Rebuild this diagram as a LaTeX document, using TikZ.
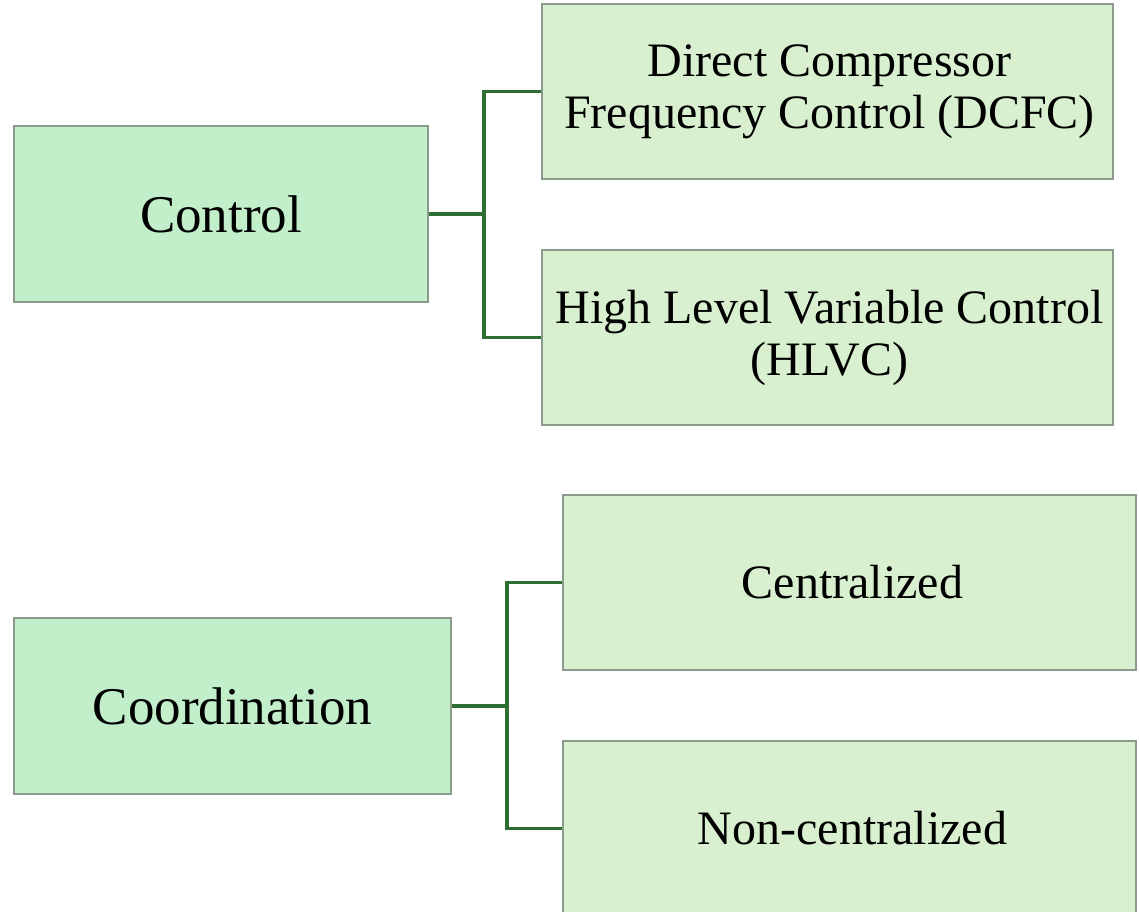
\documentclass[tikz,border=0pt]{standalone}
\usepackage{fontspec}
\setmainfont{Liberation Serif}
\definecolor{rootfill}{HTML}{C2EECA}
\definecolor{leaffill}{HTML}{D8F0D0}
\definecolor{boxline}{HTML}{8C9A8C}
\definecolor{linkgreen}{HTML}{2F6E33}
\begin{document}
\begin{tikzpicture}[x=1bp,y=-1bp,
  rootbox/.style={draw=boxline,line width=1.5bp,fill=rootfill,inner sep=0pt,
    font=\fontsize{53bp}{58bp}\selectfont},
  leafbox/.style={draw=boxline,line width=1.5bp,fill=leaffill,inner sep=0pt,
    align=center,font=\fontsize{48bp}{52bp}\selectfont},
  link/.style={draw=linkgreen,line width=3.5bp}]
\useasboundingbox (0,0) rectangle (1139,912);
% first group
\node[rootbox,minimum width=414bp,minimum height=176bp] (ctrl) at (221,214) {Control};
\node[leafbox,minimum width=571bp,minimum height=175bp] (dcfc) at (827.5,91.5)
  {\hspace*{4bp}Direct Compressor\\\hspace*{4bp}Frequency Control (DCFC)};
\node[leafbox,minimum width=571bp,minimum height=175bp] (hlvc) at (827.5,337.5)
  {\hspace*{4bp}High Level Variable Control\\\hspace*{4bp}(HLVC)};
\coordinate (j1) at (484,214);
\draw[link] (ctrl.east) -- (j1);
\draw[link] (dcfc.west) -| (j1) |- (hlvc.west);
% second group
\node[rootbox,minimum width=437bp,minimum height=176bp] (coord) at (232.5,706) {Coordination};
\node[leafbox,minimum width=573bp,minimum height=175bp] (cent) at (849.5,582.5) {\hspace*{6bp}Centralized};
\node[leafbox,minimum width=573bp,minimum height=175bp] (ncent) at (849.5,828.5) {\hspace*{6bp}Non-centralized};
\coordinate (j2) at (507,706);
\draw[link] (coord.east) -- (j2);
\draw[link] (cent.west) -| (j2) |- (ncent.west);
\end{tikzpicture}
\end{document}
